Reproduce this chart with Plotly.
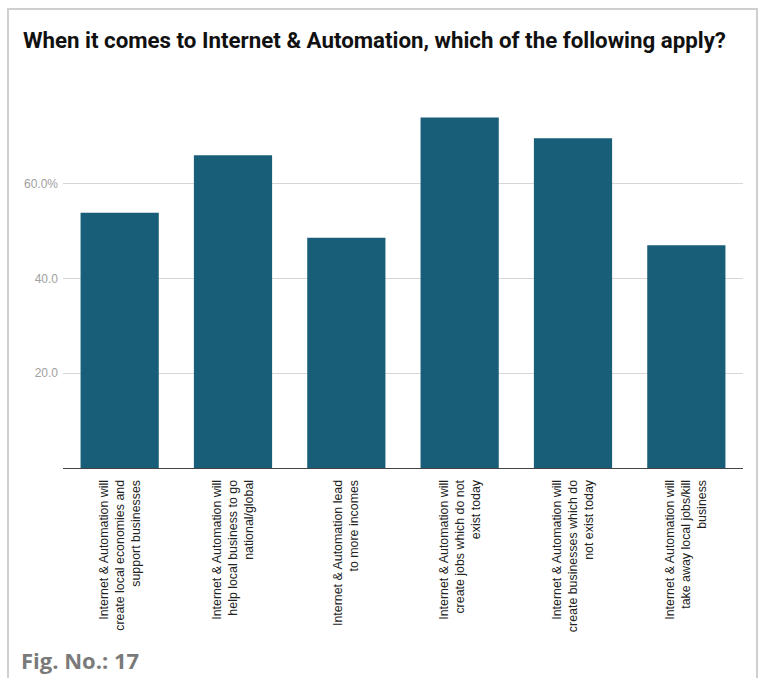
import plotly.graph_objects as go

# Survey statements (category labels, pre-wrapped) and share of respondents (%)
statements = [
    "Internet & Automation will<br>create local economies and<br>support businesses",
    "Internet & Automation will<br>help local business to go<br>national/global",
    "Internet & Automation lead<br>to more incomes",
    "Internet & Automation will<br>create jobs which do not<br>exist today",
    "Internet & Automation will<br>create businesses which do<br>not exist today",
    "Internet & Automation will<br>take away local jobs/kill<br>business",
]
share_pct = [53.9, 66.0, 48.6, 74.0, 69.6, 47.0]

y_tick_values = [20, 40, 60]
y_tick_labels = ["20.0", "40.0", "60.0%"]

title_text = "When it comes to Internet & Automation, which of the following apply?"
figure_note = "Fig. No.: 17"

W, H = 759, 678
L, R, T, B = 63, 16, 89, 210

fig = go.Figure(
    go.Bar(
        x=statements,
        y=share_pct,
        marker=dict(color="#195e78", line=dict(width=0)),
        hoverinfo="x+y",
    )
)

plot_w = W - L - R
plot_h = H - T - B


def px_x(px):
    return (px - L) / plot_w


def px_y(py):
    return (H - B - py) / plot_h


fig.update_layout(
    width=W,
    height=H,
    margin=dict(l=L, r=R, t=T, b=B, pad=0),
    paper_bgcolor="white",
    plot_bgcolor="white",
    bargap=0.31,
    showlegend=False,
    font=dict(family="Liberation Sans, Arial, sans-serif"),
    xaxis=dict(
        tickangle=-90,
        showgrid=False,
        showline=True,
        linecolor="#444444",
        linewidth=1,
        ticks="",
        tickfont=dict(size=12.4, color="#222222"),
        ticklabelstandoff=6,
    ),
    yaxis=dict(
        range=[0, 80],
        tickvals=y_tick_values,
        ticktext=y_tick_labels,
        showgrid=True,
        gridcolor="#d6d6d6",
        gridwidth=1,
        zeroline=False,
        showline=False,
        ticks="",
        tickfont=dict(size=12, color="#a0a0a0"),
        ticklabelstandoff=4,
    ),
    title=dict(
        text="<b>" + title_text + "</b>",
        font=dict(family="Roboto, sans-serif", size=22.3, color="#111111"),
        xref="container",
        x=23 / W,
        xanchor="left",
        yref="container",
        y=1 - 40 / H,
        yanchor="middle",
    ),
    annotations=[
        dict(
            text="<b>" + figure_note + "</b>",
            xref="paper",
            yref="paper",
            x=px_x(19),
            y=px_y(660),
            xanchor="left",
            yanchor="middle",
            showarrow=False,
            font=dict(family="Open Sans, sans-serif", size=22, color="#7a7a7a"),
        )
    ],
    shapes=[
        dict(
            type="rect",
            xref="paper",
            yref="paper",
            x0=px_x(8),
            x1=px_x(757),
            y0=px_y(700),
            y1=px_y(9),
            line=dict(color="#cfcfcf", width=2),
            fillcolor="rgba(0,0,0,0)",
            layer="below",
        )
    ],
)

fig.write_html("out.html")
